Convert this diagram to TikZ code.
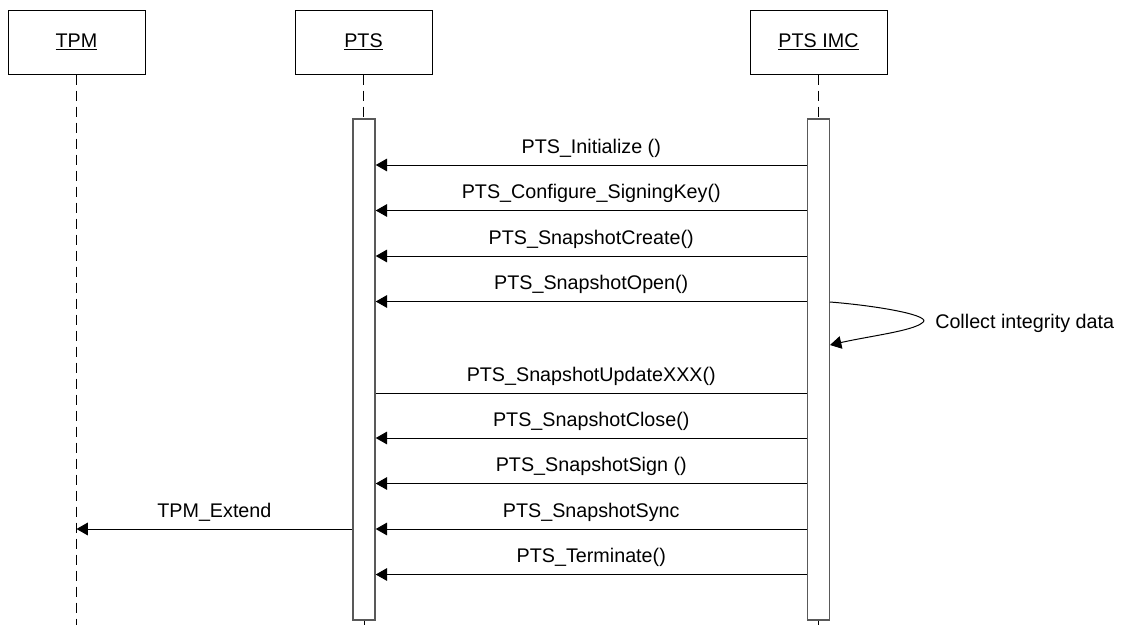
\documentclass[tikz,border=0pt]{standalone}
\usepackage{fontspec}
\setmainfont{Liberation Sans}
\usetikzlibrary{arrows.meta}
\begin{document}
\begin{tikzpicture}[x=0.75pt,y=-0.75pt,
  font=\fontsize{14.8}{17}\selectfont,
  actor/.style={draw, line width=0.75pt, minimum width=102.75pt, minimum height=48pt, inner sep=0pt},
  activation/.style={draw=black!65, line width=1.1pt, fill=white, minimum width=16.5pt, minimum height=375.75pt, inner sep=0pt},
  lifeline/.style={line width=0.75pt, dash pattern=on 8pt off 4pt},
  msg/.style={line width=0.75pt, -{Triangle[length=8.5pt,width=9.5pt]}},
  plain/.style={line width=0.75pt},
  lbl/.style={inner sep=0pt, anchor=base}]
\useasboundingbox (0,0) rectangle (1122,625);

% participants
\node[actor] (tpm) at (76.5,42) {\underline{TPM}};
\node[actor] (pts) at (363.5,42) {\underline{PTS}};
\node[actor] (imc) at (818.5,42) {\underline{PTS IMC}};

% lifelines
\coordinate (bot) at (0,625);
\draw[lifeline] (tpm.south) -- (tpm.south |- bot);
\draw[lifeline] (pts.south) -- (pts.south |- 0,119);
\draw[lifeline] (imc.south) -- (imc.south |- 0,119);

% activation bars
\node[activation] (pa) at (364,369.5) {};
\node[activation] (ia) at (818.5,369.5) {};
\draw[plain] (pa.south) -- (pa.south |- bot);
\draw[plain] (ia.south) -- (ia.south |- bot);

% message rows
\coordinate (m1) at (0,165);
\coordinate (m2) at (0,210.5);
\coordinate (m3) at (0,256);
\coordinate (m4) at (0,301.5);
\coordinate (m5) at (0,393);
\coordinate (m6) at (0,438);
\coordinate (m7) at (0,483.5);
\coordinate (m8) at (0,529);
\coordinate (m9) at (0,574.5);

\foreach \m/\t in {m1/{PTS\_Initialize ()},
                   m2/{PTS\_Configure\_SigningKey()},
                   m3/{PTS\_SnapshotCreate()},
                   m4/{PTS\_SnapshotOpen()},
                   m6/{PTS\_SnapshotClose()},
                   m7/{PTS\_SnapshotSign ()},
                   m8/{PTS\_SnapshotSync},
                   m9/{PTS\_Terminate()}}{
  \draw[msg] (ia.west |- \m) -- (pa.east |- \m)
    node[lbl, midway, yshift=9pt] {\t};
}
\draw[plain] (ia.west |- m5) -- (pa.east |- m5)
  node[lbl, midway, yshift=9pt] {PTS\_SnapshotUpdateXXX()};

% call into the TPM
\draw[msg] (pa.west |- m8) -- (tpm.south |- m8)
  node[lbl, midway, yshift=9pt] {TPM\_Extend};

% self call on PTS IMC
\coordinate (s1) at (830,302);
\coordinate (s2) at (830,345);
\draw[msg] (s1) .. controls (880,306) and (935,316) .. (922,323)
  .. controls (912,331) and (870,336) .. (s2);
\node[anchor=west, inner sep=0pt] (note) at (935,323) {Collect integrity data};
\end{tikzpicture}
\end{document}
